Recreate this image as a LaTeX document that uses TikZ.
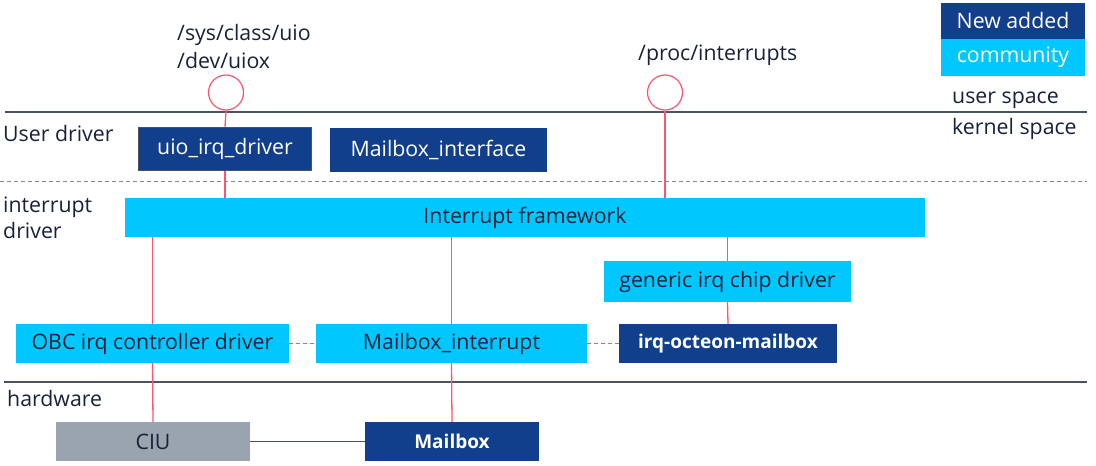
\documentclass[tikz,border=0pt]{standalone}
\usepackage{fontspec}
\setmainfont{Open Sans}
\usetikzlibrary{positioning}
\definecolor{nokiablue}{HTML}{123F8C}
\definecolor{commcyan}{HTML}{00C8FF}
\definecolor{hwgray}{HTML}{9AA4AF}
\definecolor{inkdark}{HTML}{16213A}
\definecolor{irqred}{HTML}{FF5470}
\definecolor{layergray}{HTML}{4A5364}

\begin{document}
\begin{tikzpicture}[x=1pt, y=-1pt,
    every node/.style={font=\fontsize{21.3}{28}\selectfont, text=inkdark},
    newbox/.style={fill=nokiablue, text=white, inner sep=0pt},
    commbox/.style={fill=commcyan, inner sep=0pt},
    hwbox/.style={fill=hwgray, inner sep=0pt},
    boldlbl/.style={font=\fontsize{19}{26}\selectfont\bfseries},
    port/.style={circle, draw=irqred, fill=white, line width=1.2pt, minimum size=35pt, inner sep=0pt},
    lbl/.style={anchor=west, inner sep=0pt, align=left},
    irq/.style={draw=irqred, line width=1.3pt},
    peer/.style={draw=irqred, line width=1.3pt, dash pattern=on 4pt off 3pt},
    layer/.style={draw=layergray, line width=1.8pt},
    sublayer/.style={draw=layergray!70, line width=1pt, dash pattern=on 4pt off 3pt}]
            \useasboundingbox (0,0) rectangle (1096,466);

            % Layer borders
            \coordinate (top1) at (5,112);
            \coordinate (top2) at (1087,112);
            \coordinate (mid1) at (0,181);
            \coordinate (mid2) at (1087,181);
            \coordinate (hw1) at (4,382);
            \coordinate (hw2) at (1087,382);
            \draw[layer] (top1) -- (top2);
            \draw[sublayer] (mid1) -- (mid2);
            \draw[layer] (hw1) -- (hw2);

            % Layer labels
            \node[lbl] (sysfs) at (177,47) {/sys/class/uio\\/dev/uiox};
            \node[lbl] (procfs) at (638,55) {/proc/interrupts};
            \node[lbl] (uspace) at (952,100) {user space};
            \node[lbl] (kspace) at (952,129) {kernel space};
            \node[lbl] (userdrv) at (3,134) {User driver};
            \node[lbl, font=\fontsize{21.3}{26}\selectfont] (intdrv) at (3,218) {interrupt\\driver};
            \node[lbl] (hwlbl) at (7,399) {hardware};

            % Legend
            \node[newbox, minimum width=144pt, minimum height=36pt] (legnew) at (1013,21) {New added};
            \node[commbox, text=white, minimum width=144pt, minimum height=37pt] (legcomm) at (1013,57.5) {community};

            % Interfaces
            \node[port] (uioport) at (226,92.5) {};
            \node[port] (procport) at (665,92.5) {};

            % Drivers
            \node[newbox, draw=layergray, line width=1.5pt, minimum width=173pt, minimum height=43pt] (uio) at (225,149) {uio\_irq\_driver};
            \node[newbox, minimum width=217pt, minimum height=44pt] (mbif) at (438.5,150) {Mailbox\_interface};
            \node[commbox, minimum width=800pt, minimum height=39pt] (fw) at (525,217.5) {Interrupt framework};
            \node[commbox, minimum width=247pt, minimum height=41pt] (gen) at (727.5,281.5) {generic irq chip driver};
            \node[commbox, minimum width=273pt, minimum height=39pt] (obc) at (152.5,343.5) {OBC irq controller driver};
            \node[commbox, minimum width=271pt, minimum height=39pt] (mbint) at (451.5,343.5) {Mailbox\_interrupt};
            \node[newbox, boldlbl, minimum width=218pt, minimum height=39pt] (octeon) at (728,343.5) {irq-octeon-mailbox};

            % Hardware
            \node[hwbox, minimum width=194pt, minimum height=39pt] (ciu) at (153,441.5) {CIU};
            \node[newbox, boldlbl, minimum width=174pt, minimum height=39pt] (mailbox) at (452,441.5) {Mailbox};

            % Wiring
            \draw[irq] (uioport.south) -- (uio.north);
            \draw[irq] (uio.south) -- (uio.south |- fw.north);
            \draw[irq] (procport.south) -- (procport.south |- fw.north);
            \draw[irq] (obc.north |- fw.south) -- (obc.north);
            \draw[irq] (obc.south) -- (ciu.north);
            \draw[irq] (mbint.north |- fw.south) -- (mbint.north);
            \draw[irq] (mbint.south) -- (mailbox.north);
            \draw[irq] (gen.north |- fw.south) -- (gen.north);
            \draw[irq] (gen.south) -- (octeon.north);
            \draw[peer] (obc.east) -- (mbint.west);
            \draw[peer] (mbint.east) -- (octeon.west);
            \draw[draw=layergray, line width=1.2pt] (ciu.east) -- (mailbox.west);
        \end{tikzpicture}
\end{document}
